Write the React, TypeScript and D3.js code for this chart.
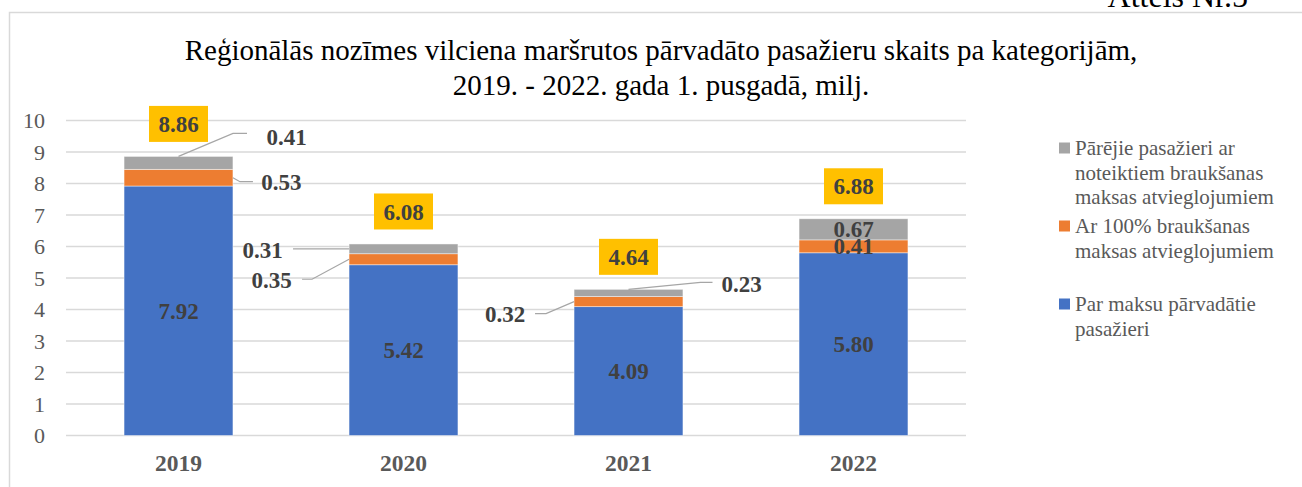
import React from "react";
import * as d3 from "d3";

const categories = ["2019", "2020", "2021", "2022"];
const paid = [7.92, 5.42, 4.09, 5.8];
const full100 = [0.53, 0.35, 0.32, 0.41];
const other = [0.41, 0.31, 0.23, 0.67];
const totals = [8.86, 6.08, 4.64, 6.88];
const yTicks = [0, 1, 2, 3, 4, 5, 6, 7, 8, 9, 10];

const seriesNames = [
  ["Par maksu pārvadātie", "pasažieri"],
  ["Ar 100% braukšanas", "maksas atvieglojumiem"],
  ["Pārējie pasažieri ar", "noteiktiem braukšanas", "maksas atvieglojumiem"],
];
const seriesValues = [paid, full100, other];
const colors = ["#4472C4", "#ED7D31", "#A5A5A5"];

const titleLines = [
  "Reģionālās nozīmes vilciena maršrutos pārvadāto pasažieru skaits pa kategorijām,",
  "2019. - 2022. gada 1. pusgadā, milj.",
];

// label placement (layout, not data): per series, per category
type Lay = { anchor: "top" | "left" | "right"; t: [number, number]; pts: [number, number][] } | null;
const labelLayout: Lay[][] = [
  [null, null, null, null],
  [
    { anchor: "right", t: [48.5, 4], pts: [[7, 4], [20, 4]] },
    { anchor: "left", t: [-77.5, 21], pts: [[-37, 20], [-47, 20]] },
    { anchor: "left", t: [-69, 12], pts: [[-28, 12], [-39, 12]] },
    null,
  ],
  [
    { anchor: "top", t: [108, -19], pts: [[54.5, -23], [68.5, -23]] },
    { anchor: "left", t: [-86.5, 1.5], pts: [[-56, 0]] },
    { anchor: "top", t: [113, -5], pts: [[72, -7], [84, -7]] },
    null,
  ],
];

const W = 1302, H = 487;
const left = 66, right = 966, top = 120.5, bottom = 435.5;

export default function App() {
  const x = d3.scaleBand().domain(categories).range([left, right]).paddingInner(0.516).paddingOuter(0.258);
  const y = d3.scaleLinear().domain([0, 10]).range([bottom, top]);
  const stackData = categories.map((c, i) => ({ cat: c, s0: paid[i], s1: full100[i], s2: other[i] }));
  const stacked = d3.stack<any>().keys(["s0", "s1", "s2"])(stackData);
  const serif = "'Liberation Serif', 'Times New Roman', serif";
  const bw = x.bandwidth();

  return (
    <svg width={W} height={H} style={{ position: "absolute", left: 0, top: 0, background: "#fff" }} fontFamily={serif}>
      <rect x={0} y={0} width={W} height={H} fill="#fff" />
      <text x={1248} y={7} textAnchor="end" fontSize={32} fill="#000">Attēls Nr.5</text>
      <rect x={9.5} y={12.5} width={1300} height={500} fill="#fff" stroke="#d9d9d9" strokeWidth={1.5} />
      {titleLines.map((t, i) => (
        <text key={i} x={661} y={60 + i * 35} textAnchor="middle" fontSize={29} fill="#000">{t}</text>
      ))}
      {yTicks.map((t) => (
        <g key={t}>
          <line x1={left} x2={right} y1={y(t)} y2={y(t)} stroke="#d9d9d9" strokeWidth={1.5} />
          <text x={45} y={y(t)} dy="0.35em" textAnchor="end" fontSize={22} fill="#595959">{t}</text>
        </g>
      ))}
      {stacked.map((layer, si) => (
        <g key={si}>
          {layer.map((d, ci) => (
            <rect key={ci} x={x(categories[ci])!} y={y(d[1])} width={bw} height={y(d[0]) - y(d[1])}
              fill={colors[si]} stroke="#ffffff" strokeOpacity={0.6} strokeWidth={0.75} />
          ))}
        </g>
      ))}
      {stacked.map((layer, si) => (
        <g key={"l" + si}>
          {layer.map((d, ci) => {
            const v = seriesValues[si][ci];
            const lay = labelLayout[si][ci];
            const x0 = x(categories[ci])!;
            const mid = (y(d[0]) + y(d[1])) / 2;
            const label = v.toFixed(2);
            if (!lay) {
              return (
                <text key={ci} x={x0 + bw / 2} y={mid} dy="0.35em" textAnchor="middle" fontSize={23}
                  fontWeight="bold" fill="#404040">{label}</text>
              );
            }
            let ax = x0 + bw / 2, ay = y(d[1]);
            if (lay.anchor === "left") { ax = x0; ay = mid; }
            if (lay.anchor === "right") { ax = x0 + bw; ay = mid; }
            const pts = [[ax, ay], ...lay.pts.map(([dx, dy]) => [ax + dx, ay + dy])];
            return (
              <g key={ci}>
                <path d={d3.line()(pts as [number, number][])!} fill="none" stroke="#a6a6a6" strokeWidth={1.2} />
                <text x={ax + lay.t[0]} y={ay + lay.t[1]} dy="0.35em" textAnchor="middle" fontSize={23}
                  fontWeight="bold" fill="#404040">{label}</text>
              </g>
            );
          })}
        </g>
      ))}
      {totals.map((t, i) => {
        const cx = x(categories[i])! + bw / 2;
        const cy = y(t) - 32.5;
        return (
          <g key={"t" + i}>
            <rect x={cx - 29.5} y={cy - 18} width={59} height={36} fill="#FFC000" />
            <text x={cx} y={cy} dy="0.35em" textAnchor="middle" fontSize={23} fontWeight="bold" fill="#404040">{t.toFixed(2)}</text>
          </g>
        );
      })}
      {categories.map((c) => (
        <text key={c} x={x(c)! + bw / 2} y={463} dy="0.35em" textAnchor="middle" fontSize={23.5} fontWeight="bold" fill="#595959">{c}</text>
      ))}
      {[2, 1, 0].map((si, k) => {
        const y0 = [148, 226, 304][k];
        return (
          <g key={"lg" + si}>
            <rect x={1059} y={y0 - 5.5} width={11} height={11} fill={colors[si]} />
            {seriesNames[si].map((ln, li) => (
              <text key={li} x={1075} y={y0 + li * 24.5} dy="0.35em" fontSize={21} fill="#595959">{ln}</text>
            ))}
          </g>
        );
      })}
    </svg>
  );
}
